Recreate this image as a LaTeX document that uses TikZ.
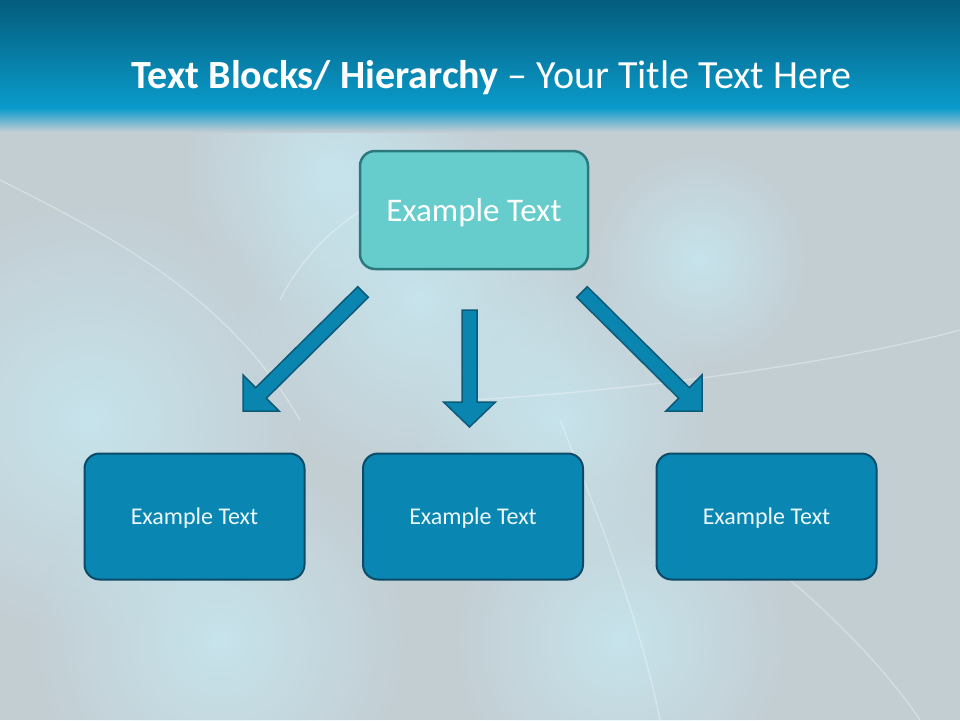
\documentclass[tikz,border=0pt]{standalone}
\usepackage{fontspec}
\setmainfont{Carlito}
\usetikzlibrary{fadings}
\tikzfading[name=glowfade, inner color=transparent!0, outer color=transparent!100]
\definecolor{bgc}{HTML}{C3CED3}
\definecolor{glow}{HTML}{C8ECF6}
\definecolor{bartop}{HTML}{045C7C}
\definecolor{barbot}{HTML}{0A9BCB}
\definecolor{topfill}{HTML}{66CCCC}
\definecolor{topline}{HTML}{2A7A7D}
\definecolor{boxfill}{HTML}{0A86B2}
\definecolor{boxline}{HTML}{0B4B67}
\definecolor{arrfill}{HTML}{0A85B0}
\definecolor{arrline}{HTML}{0D5A78}
\newcommand{\downtxt}[2]{\smash{\raisebox{-#1}{#2}}}
\tikzset{
  topbox/.style={draw=topline, line width=2.5pt, fill=topfill, rounded corners=15pt,
    minimum width=228pt, minimum height=118pt, text=white, font=\fontsize{33}{40}\selectfont},
  lowbox/.style={draw=boxline, line width=2pt, fill=boxfill, rounded corners=15pt,
    minimum width=220pt, minimum height=126pt, text=white!92!cyan, font=\fontsize{24}{29}\selectfont},
  blockarr/.style={draw=arrline, line width=1.5pt, fill=arrfill, line join=miter},
  spark/.style={draw=white, line width=1.2pt, opacity=0.35}
}
\begin{document}
\begin{tikzpicture}[x=1pt,y=-1pt]
\useasboundingbox (0,0) rectangle (960,720);
% background
\fill[bgc] (0,0) rectangle (960,720);
\foreach \cx/\cy/\r in {90/420/220, 420/300/190, 220/640/190, 620/640/170, 330/170/150, 560/420/150, 700/260/110}{
  \fill[glow, path fading=glowfade, opacity=0.7] (\cx,\cy) circle (\r);
}
% faint arcs of the texture
\draw[spark] (470,400) .. controls (650,390) and (850,360) .. (960,330);
\draw[spark] (0,180) .. controls (120,240) and (230,300) .. (300,420);
\draw[spark] (560,420) .. controls (600,520) and (640,620) .. (660,720);
\draw[spark] (280,300) .. controls (320,220) and (400,180) .. (470,170);
\draw[spark] (790,580) .. controls (860,640) and (900,690) .. (920,720);
% title bar
\shade[top color=bartop, bottom color=barbot] (0,0) rectangle (960,108);
\shade[top color=barbot, bottom color=bgc] (0,108) rectangle (960,132);
\node[anchor=base, text=white, font=\fontsize{40}{48}\selectfont] (title) at (491.5,88)
  {\textbf{Text Blocks/ Hierarchy} – Your Title Text Here};
% boxes
\node[topbox] (top) at (474,210) {\downtxt{11pt}{Example Text}};
\node[lowbox] (left) at (194.5,516.5) {\downtxt{7.5pt}{Example Text}};
\node[lowbox] (mid) at (473,516.5) {\downtxt{7.5pt}{Example Text}};
\node[lowbox] (right) at (766.5,516.5) {\downtxt{7.5pt}{Example Text}};
% block arrows
\draw[blockarr] (357.7,286.7) -- (368.3,297.3) -- (266.3,398.3) -- (279,411) -- (243,411) -- (243,375) -- (255.7,387.7) -- cycle;
\draw[blockarr] (462,310) -- (477,310) -- (477,402) -- (495.5,402) -- (469.5,427) -- (443.5,402) -- (462,402) -- cycle;
\draw[blockarr] (587.3,286.7) -- (576.7,297.3) -- (678.7,398.3) -- (666,411) -- (702,411) -- (702,375) -- (689.3,387.7) -- cycle;
\end{tikzpicture}
\end{document}
